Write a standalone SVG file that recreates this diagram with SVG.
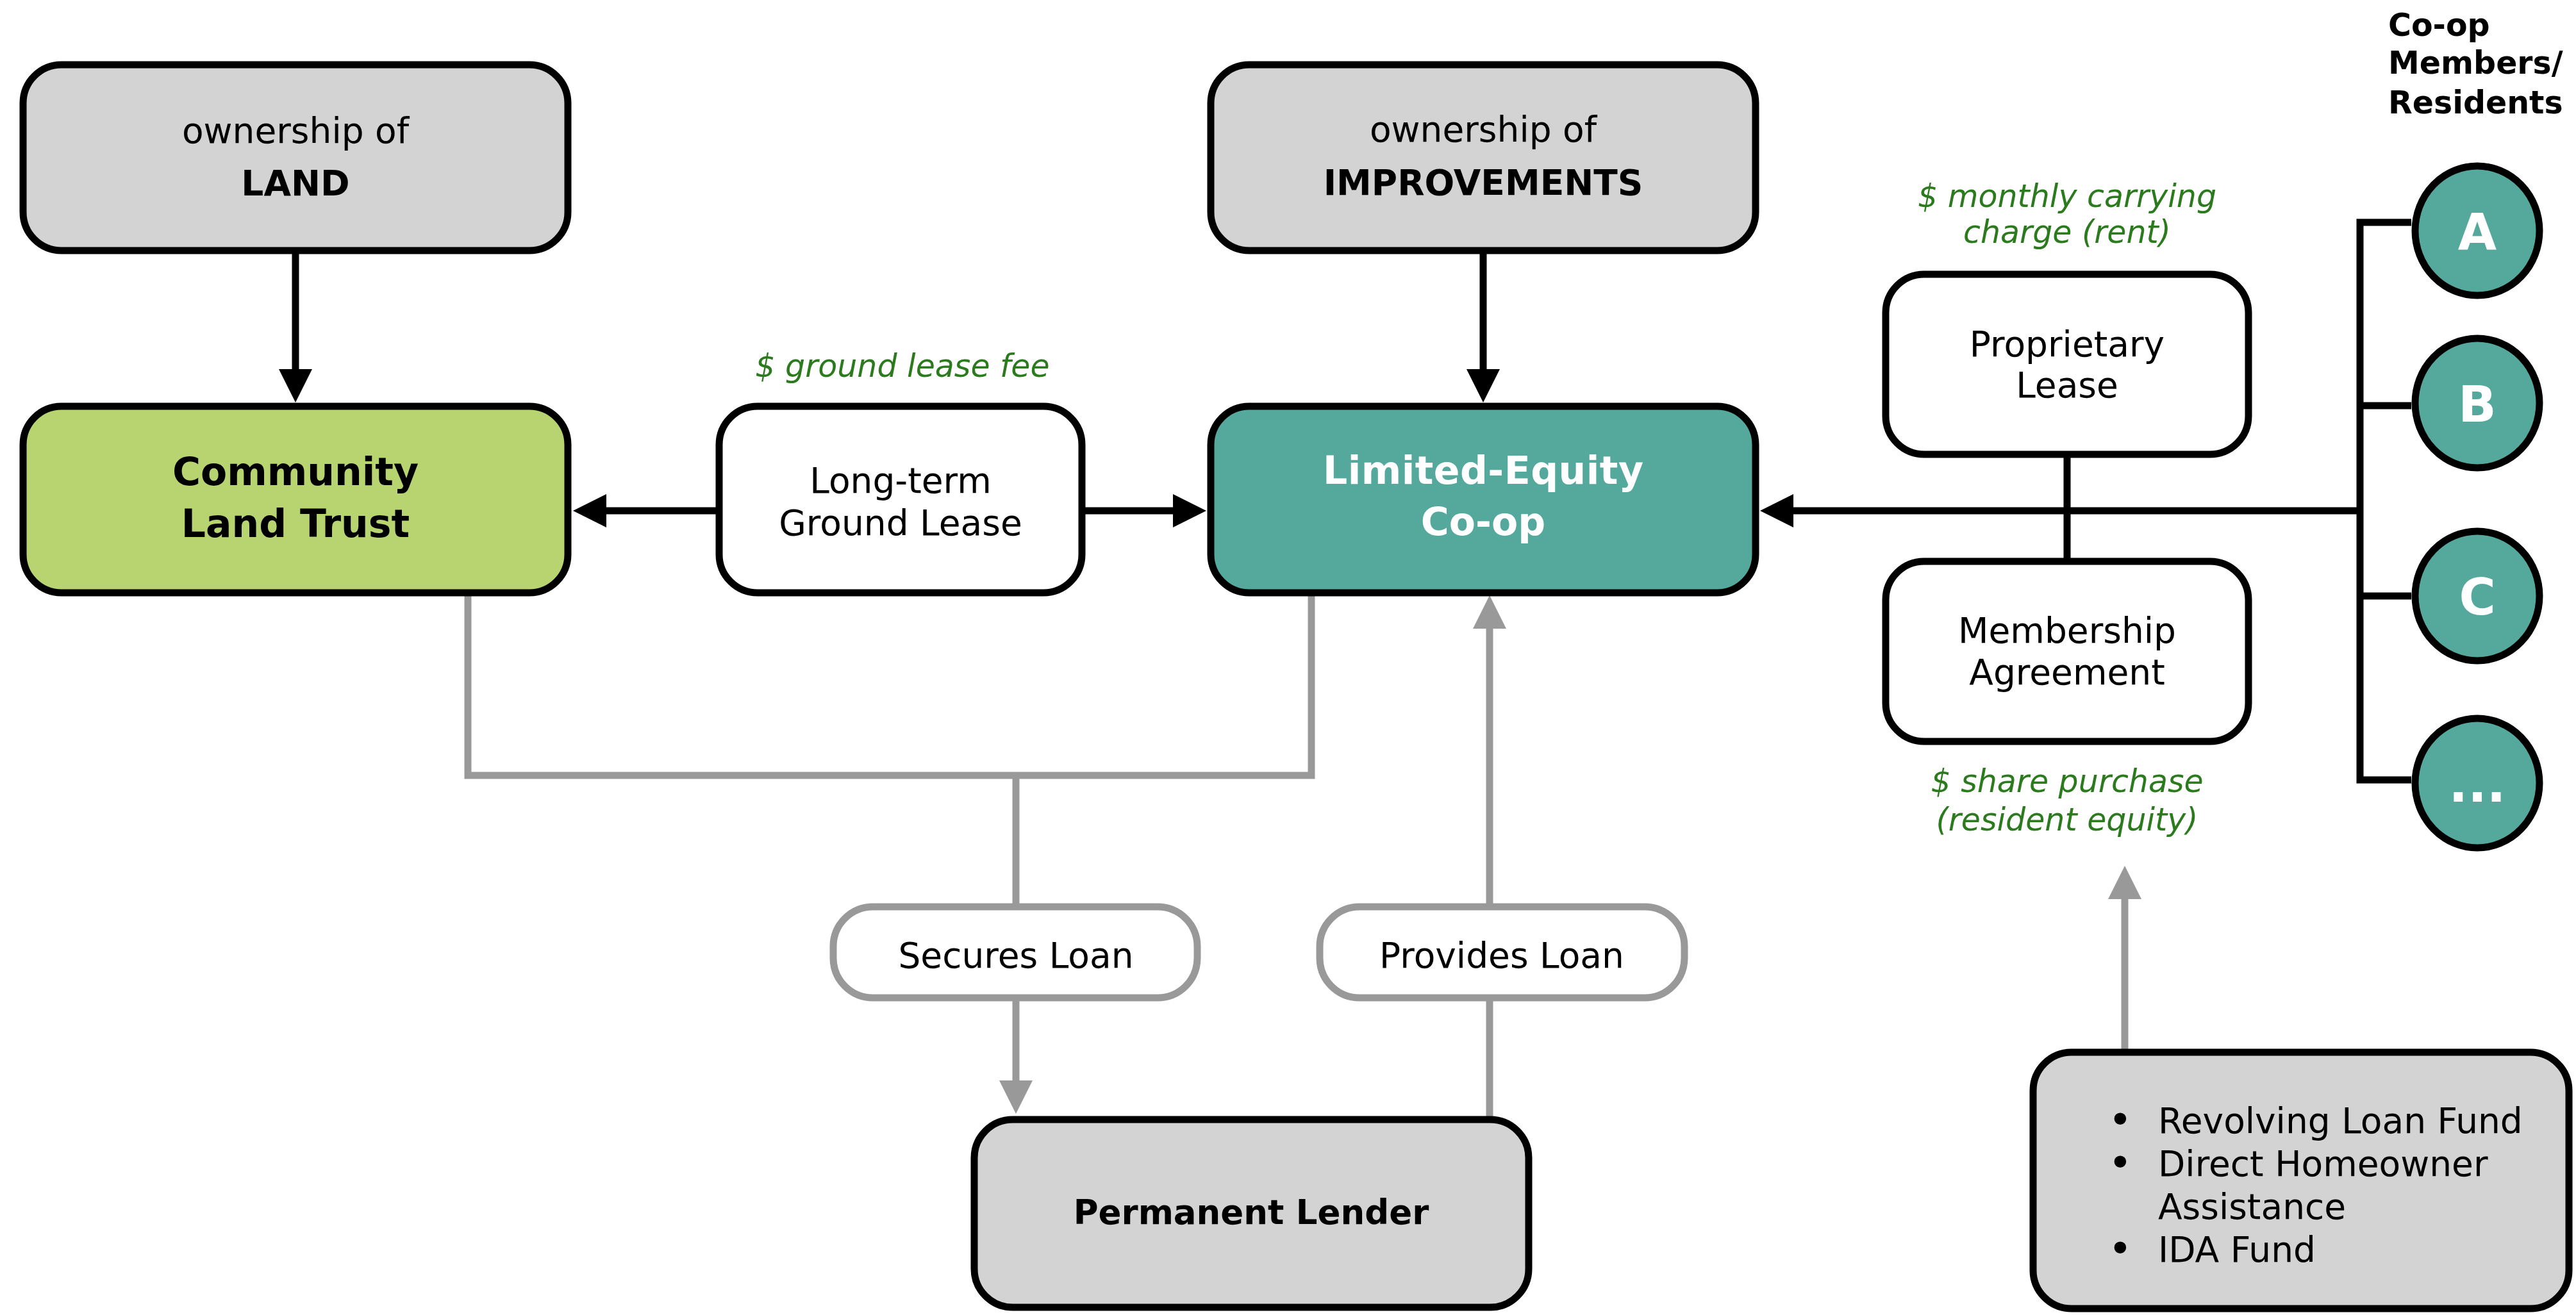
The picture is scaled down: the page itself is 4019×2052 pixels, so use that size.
<svg xmlns="http://www.w3.org/2000/svg" width="4019" height="2052" viewBox="0 0 4019 2052">
<style>
text{font-family:"DejaVu Sans","Verdana","Liberation Sans",sans-serif;fill:#000;text-anchor:middle}
.r{font-size:55px}
.b{font-size:55px;font-weight:bold}
.h{font-size:60px;font-weight:bold}
.w{fill:#fff}
.g{font-size:49px;font-style:italic;fill:#2b7a1e}
.box{stroke:#000;stroke-width:11}
.gray{fill:#d3d3d3}
.white{fill:#fff}
.pill{fill:#fff;stroke:#999;stroke-width:11}
.k{stroke:#000;stroke-width:11;fill:none}
.gl{stroke:#999;stroke-width:11;fill:none}
.circ{fill:#55a89c;stroke:#000;stroke-width:11}
.cl{font-size:78px;font-weight:bold;fill:#fff}
.li{font-size:55px;text-anchor:start}
.bu{font-size:64px}
</style>
<defs>
<marker id="ak" markerUnits="userSpaceOnUse" markerWidth="52" markerHeight="52" viewBox="0 0 52 52" refX="0" refY="26" orient="auto"><path d="M0,0 L52,26 L0,52 z" fill="#000"/></marker>
<marker id="ag" markerUnits="userSpaceOnUse" markerWidth="52" markerHeight="52" viewBox="0 0 52 52" refX="0" refY="26" orient="auto"><path d="M0,0 L52,26 L0,52 z" fill="#999"/></marker>
</defs>
<rect width="4019" height="2052" fill="#fff"/>
<g id="connectors">
<line class="k" x1="461" y1="391" x2="461" y2="576" marker-end="url(#ak)"/>
<line class="k" x1="2314" y1="391" x2="2314" y2="576" marker-end="url(#ak)"/>
<line class="k" x1="1122" y1="797" x2="946" y2="797" marker-end="url(#ak)"/>
<line class="k" x1="1688" y1="797" x2="1830" y2="797" marker-end="url(#ak)"/>
<line class="k" x1="3682" y1="797" x2="2798" y2="797" marker-end="url(#ak)"/>
<line class="k" x1="3225" y1="709" x2="3225" y2="876"/>
<path class="k" d="M3762,347 H3682 V1217 H3762 M3682,633 H3762 M3682,930 H3762"/>
<path class="gl" d="M730,925 V1210 H2046 V925"/>
<line class="gl" x1="1585" y1="1210" x2="1585" y2="1686" marker-end="url(#ag)"/>
<line class="gl" x1="2324" y1="1747" x2="2324" y2="981" marker-end="url(#ag)"/>
<line class="gl" x1="3315" y1="1642" x2="3315" y2="1403" marker-end="url(#ag)"/>
</g>
<g id="land">
<rect class="box gray" x="36" y="101" width="850" height="290" rx="60"/>
<text class="r" x="461" y="223">ownership of</text>
<text class="b" x="461" y="305">LAND</text>
</g>
<g id="improvements">
<rect class="box gray" x="1889" y="101" width="850" height="290" rx="60"/>
<text class="r" x="2314" y="221">ownership of</text>
<text class="b" x="2314" y="304">IMPROVEMENTS</text>
</g>
<g id="clt">
<rect class="box" fill="#b8d470" x="36" y="634" width="850" height="291" rx="60"/>
<text class="h" x="461" y="757">Community</text>
<text class="h" x="461" y="838">Land Trust</text>
</g>
<g id="ground-lease-fee">
<text class="g" x="1408" y="588">$ ground lease fee</text>
</g>
<g id="ground-lease">
<rect class="box white" x="1122" y="634" width="566" height="291" rx="60"/>
<text class="r" x="1405" y="769">Long-term</text>
<text class="r" x="1405" y="835">Ground Lease</text>
</g>
<g id="lec">
<rect class="box" fill="#55a89c" x="1889" y="634" width="850" height="291" rx="60"/>
<text class="h w" x="2314" y="755" textLength="500">Limited-Equity</text>
<text class="h w" x="2314" y="835">Co-op</text>
</g>
<g id="carrying-charge">
<text class="g" x="3225" y="323">$ monthly carrying</text>
<text class="g" x="3225" y="379">charge (rent)</text>
</g>
<g id="proprietary-lease">
<rect class="box white" x="2942" y="428" width="566" height="281" rx="60"/>
<text class="r" x="3225" y="556">Proprietary</text>
<text class="r" x="3225" y="620">Lease</text>
</g>
<g id="membership-agreement">
<rect class="box white" x="2942" y="876" width="566" height="281" rx="60"/>
<text class="r" x="3225" y="1003">Membership</text>
<text class="r" x="3225" y="1068">Agreement</text>
</g>
<g id="share-purchase">
<text class="g" x="3225" y="1236">$ share purchase</text>
<text class="g" x="3225" y="1296">(resident equity)</text>
</g>
<g id="members-title">
<text style="font-size:49px;font-weight:bold;text-anchor:start" x="3726" y="56">Co-op</text>
<text style="font-size:49px;font-weight:bold;text-anchor:start" x="3726" y="115">Members/</text>
<text style="font-size:49px;font-weight:bold;text-anchor:start" x="3726" y="177">Residents</text>
</g>
<g id="member-a">
<ellipse class="circ" cx="3865" cy="360" rx="97" ry="101"/>
<text class="cl" x="3865" y="389">A</text>
</g>
<g id="member-b">
<ellipse class="circ" cx="3865" cy="629" rx="97" ry="101"/>
<text class="cl" x="3865" y="658">B</text>
</g>
<g id="member-c">
<ellipse class="circ" cx="3865" cy="930" rx="97" ry="101"/>
<text class="cl" x="3865" y="959">C</text>
</g>
<g id="member-more">
<ellipse class="circ" cx="3865" cy="1222" rx="97" ry="101"/>
<text class="cl" x="3865" y="1251">...</text>
</g>
<g id="secures-loan">
<rect class="pill" x="1300" y="1415" width="568" height="142" rx="62"/>
<text class="r" x="1585" y="1510">Secures Loan</text>
</g>
<g id="provides-loan">
<rect class="pill" x="2059" y="1415" width="569" height="142" rx="62"/>
<text class="r" x="2343" y="1510">Provides Loan</text>
</g>
<g id="permanent-lender">
<rect class="box gray" x="1520" y="1747" width="865" height="293" rx="60"/>
<text style="font-size:53px;font-weight:bold" x="1952" y="1910">Permanent Lender</text>
</g>
<g id="funding">
<rect class="box gray" x="3172" y="1642" width="836" height="400" rx="60"/>
<text class="li" x="3289" y="1770"><tspan class="bu">•</tspan><tspan x="3367" y="1768">Revolving Loan Fund</tspan></text>
<text class="li" x="3289" y="1837"><tspan class="bu">•</tspan><tspan x="3367" y="1835">Direct Homeowner</tspan></text>
<text class="li" x="3367" y="1902">Assistance</text>
<text class="li" x="3289" y="1971"><tspan class="bu">•</tspan><tspan x="3367" y="1969">IDA Fund</tspan></text>
</g>
</svg>
